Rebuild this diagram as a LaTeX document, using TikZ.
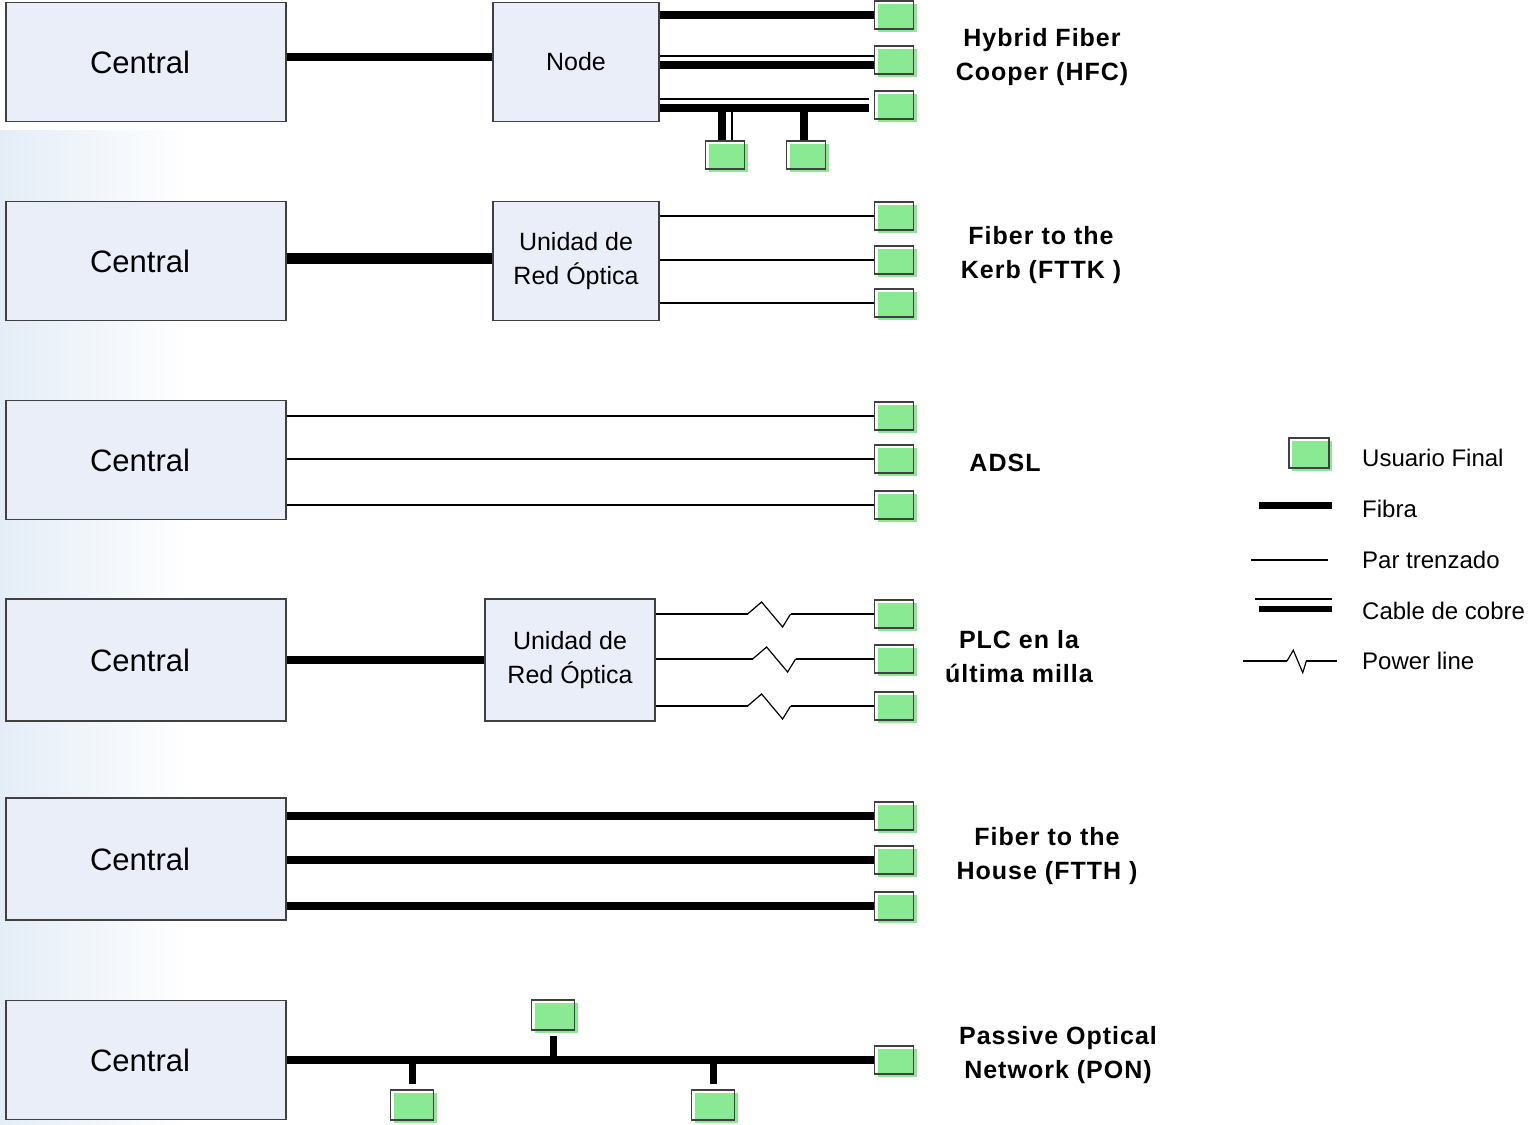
\documentclass[tikz,border=0pt]{standalone}
\usepackage{fontspec}
\setmainfont{Liberation Sans}
\newfontfamily\lblfont{Liberation Sans}[LetterSpace=4.0]
\usepackage{tikz}
\usetikzlibrary{shadows}
\definecolor{boxfill}{HTML}{E9EEF8}
\definecolor{boxline}{HTML}{404040}
\definecolor{usrgreen}{HTML}{8AEA94}
\definecolor{bgblue}{HTML}{E4EDF7}

\begin{document}
\begin{tikzpicture}[x=1pt,y=-1pt,
  central/.style={draw=boxline,line width=1.2pt,fill=boxfill,minimum width=280pt,minimum height=119pt,inner sep=0pt,font=\fontsize{31}{36}\selectfont,execute at begin node={\hspace*{-12pt}}},
  unit/.style={draw=boxline,line width=1.2pt,fill=boxfill,minimum width=166pt,minimum height=119pt,inner sep=0pt,align=center,font=\fontsize{25}{34}\selectfont},
  usr/.style={draw=boxline,line width=1.4pt,minimum width=39pt,minimum height=28pt,inner sep=0pt,drop shadow={shadow xshift=3pt,shadow yshift=-3pt,fill=usrgreen,opacity=1}},
  fibra/.style={line width=8.5pt},
  par/.style={line width=1.2pt},
  tag/.style={align=center,font=\lblfont\bfseries\fontsize{25}{34}\selectfont},
  legtext/.style={anchor=west,inner sep=0pt,font=\fontsize{24}{28}\selectfont},
  zig/.pic={\draw[par] (0,0) -- (14,-12) -- (35,13) -- (43,0);}]
  \useasboundingbox (0,0) rectangle (1533,1124);
  \shade[left color=bgblue,right color=white] (0,130) rectangle (190,1124);

  \node[central] (c1) at (146,62) {Central};
  \node[central] (c2) at (146,261) {Central};
  \node[central] (c3) at (146,460) {Central};
  \node[central,minimum height=122pt] (c4) at (146,660) {Central};
  \node[central,minimum height=122pt] (c5) at (146,859) {Central};
  \node[central] (c6) at (146,1060) {Central};

  % HFC
  \node[unit] (hfc) at (576,62) {Node};
  \node[usr] (h1) at (894,15) {};
  \node[usr] (h2) at (894,60) {};
  \node[usr] (h3) at (894,105) {};
  \node[usr] (h4) at (725,155) {};
  \node[usr] (h5) at (806,155) {};
  \draw[fibra] ([yshift=5pt]c1.east) -- ([yshift=5pt]hfc.west);
  \draw[fibra] (hfc.east |- h1) -- (h1);
  \draw[fibra] ([yshift=-5pt]hfc.east |- h2) -- ([yshift=-5pt]h2.west);
  \draw[par] ([yshift=4pt]hfc.east |- h2) -- ([yshift=4pt]h2.west);
  \draw[fibra] ([yshift=-3pt]hfc.east |- h3) -- ([yshift=-3pt,xshift=-5pt]h3.west);
  \draw[par] ([yshift=6pt]hfc.east |- h3) -- ([yshift=6pt,xshift=-5pt]h3.west);
  \draw[fibra] ([xshift=-3pt,yshift=-3pt]h4 |- h3) -- ([xshift=-3pt]h4.north);
  \draw[par] ([xshift=7pt,yshift=-7pt]h4 |- h3) -- ([xshift=7pt]h4.north);
  \draw[fibra] ([xshift=-2pt,yshift=-3pt]h5 |- h3) -- ([xshift=-2pt]h5.north);

  % FTTK
  \node[unit] (onu1) at (576,261) {Unidad de\\Red Óptica};
  \node[usr] (k1) at (894,216) {};
  \node[usr] (k2) at (894,260) {};
  \node[usr] (k3) at (894,303) {};
  \draw[fibra,line width=11pt] ([yshift=3pt]c2.east) -- ([yshift=3pt]onu1.west);
  \draw[par] (onu1.east |- k1) -- (k1);
  \draw[par] (onu1.east |- k2) -- (k2);
  \draw[par] (onu1.east |- k3) -- (k3);

  % ADSL
  \node[usr] (a1) at (894,416) {};
  \node[usr] (a2) at (894,459) {};
  \node[usr] (a3) at (894,505) {};
  \draw[par] (c3.east |- a1) -- (a1);
  \draw[par] (c3.east |- a2) -- (a2);
  \draw[par] (c3.east |- a3) -- (a3);

  % PLC
  \node[unit,minimum width=170pt,minimum height=122pt] (onu2) at (570,660) {Unidad de\\Red Óptica};
  \node[usr] (p1) at (894,614) {};
  \node[usr] (p2) at (894,659) {};
  \node[usr] (p3) at (894,706) {};
  \draw[fibra] (c4) -- (onu2);
  \draw[par] (onu2.east |- p1) -- ++(92,0) pic{zig} ++(43,0) -- (p1);
  \draw[par] (onu2.east |- p2) -- ++(97,0) pic{zig} ++(43,0) -- (p2);
  \draw[par] (onu2.east |- p3) -- ++(92,0) pic{zig} ++(43,0) -- (p3);

  % FTTH
  \node[usr] (f1) at (894,816) {};
  \node[usr] (f2) at (894,860) {};
  \node[usr] (f3) at (894,906) {};
  \draw[fibra] (c5.east |- f1) -- (f1);
  \draw[fibra] (c5.east |- f2) -- (f2);
  \draw[fibra] (c5.east |- f3) -- (f3);

  % PON
  \node[usr] (n1) at (894,1060) {};
  \node[usr,minimum width=43pt,minimum height=30pt] (n2) at (553,1015) {};
  \node[usr,minimum width=43pt,minimum height=30pt] (n3) at (412,1105) {};
  \node[usr,minimum width=43pt,minimum height=30pt] (n4) at (713,1105) {};
  \draw[fibra] (c6) -- (n1);
  \draw[fibra,line width=7pt,shorten >=5pt] (n2 |- c6) -- (n2);
  \draw[fibra,line width=7pt,shorten >=5pt] (n3 |- c6) -- (n3);
  \draw[fibra,line width=7pt,shorten >=5pt] (n4 |- c6) -- (n4);

  \node[tag] (thfc) at (1042,57) {Hybrid Fiber\\Cooper (HFC)};
  \node[tag] (tfttk) at (1041,255) {Fiber to the\\Kerb (FTTK )};
  \node[tag] (tadsl) at (1005,463) {ADSL};
  \node[tag] (tplc) at (1019,657) {PLC en la\\última milla};
  \node[tag] (tftth) at (1047,856) {Fiber to the\\House (FTTH )};
  \node[tag] (tpon) at (1058,1055) {Passive Optical\\Network (PON)};

  % legend
  \node[usr,minimum width=40pt,minimum height=30pt] (lusr) at (1309,453) {};
  \node[legtext] (lt1) at (1362,458) {Usuario Final};
  \node[legtext] (lt2) at (1362,509) {Fibra};
  \node[legtext] (lt3) at (1362,560) {Par trenzado};
  \node[legtext] (lt4) at (1362,611) {Cable de cobre};
  \node[legtext] (lt5) at (1362,661) {Power line};
  \draw[fibra,line width=7pt] ([xshift=-30pt,yshift=4pt]lt2.west) -- ++(-73,0);
  \draw[par] ([xshift=-34pt]lt3.west) -- ++(-77,0);
  \draw[fibra,line width=6pt] ([xshift=-30pt,yshift=2pt]lt4.west) -- ++(-73,0);
  \draw[par] ([xshift=-30pt,yshift=12pt]lt4.west) -- ++(-77,0);
  \draw[par] ([xshift=-119pt]lt5.west) -- ++(44,0) pic[xscale=0.45,yscale=0.9]{zig} ++(19,0) -- ++(31,0);
\end{tikzpicture}
\end{document}
